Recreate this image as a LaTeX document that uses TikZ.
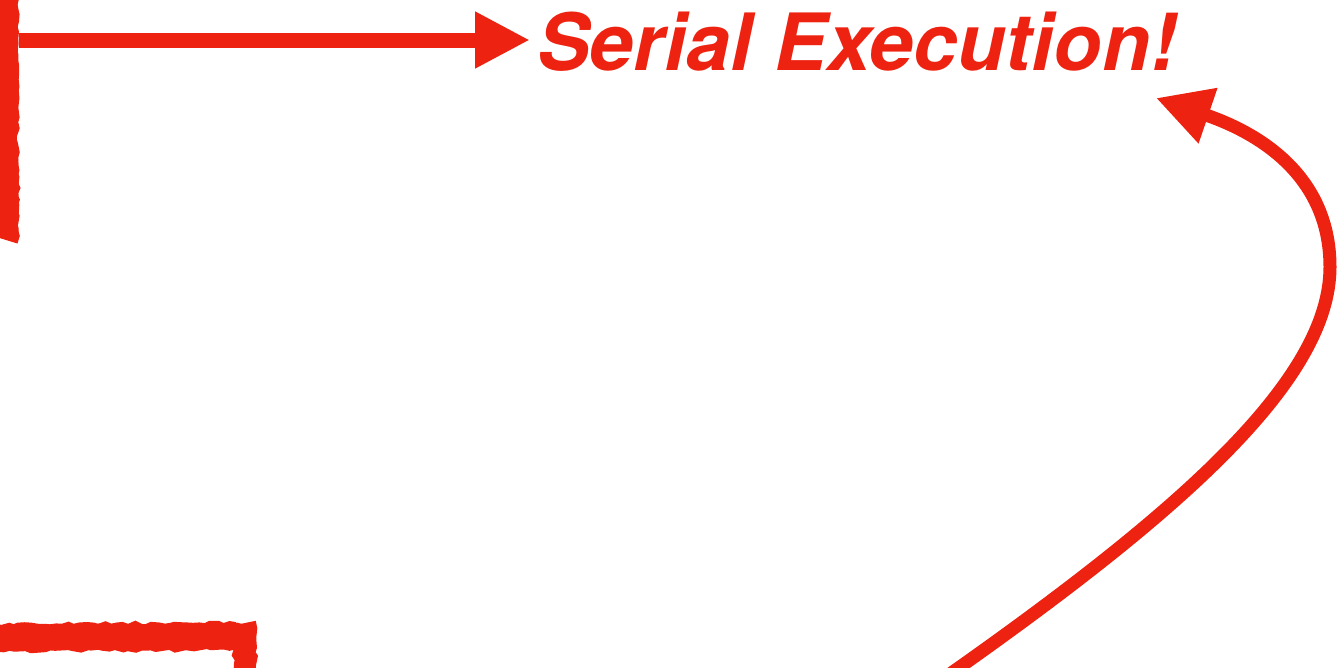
\documentclass[tikz,border=0pt]{standalone}
\usepackage{fontspec}
\setsansfont{TeX Gyre Heros}
\usetikzlibrary{arrows.meta,decorations.pathmorphing}
\definecolor{sketchred}{RGB}{238,34,16}
\begin{document}
\begin{tikzpicture}[x=1pt, y=-1pt,
  brush/.style={sketchred, line width=#1, decorate, decoration={random steps, segment length=6pt, amplitude=1.5pt}},
  flow/.style={sketchred, line width=15pt, -{Triangle[length=55pt,width=53pt]}},
  curvearrow/.style={sketchred, line width=13pt, -{Triangle[length=55pt,width=55pt]}},
  titletext/.style={font=\sffamily\bfseries\itshape\fontsize{79}{79}\selectfont, text=sketchred, inner sep=0pt}]
\pgfmathsetseed{7}
\useasboundingbox (0,0) rectangle (1339,667);
\clip (0,0) rectangle (1339,667);
% left: edge of a sketched box
\draw[brush=24pt] (6,-10) -- (6,240);
\draw[brush=14pt] (11,-10) -- (11,236);
% bottom left: corner of a sketched box
\draw[brush=26pt] (-10,639) -- (240,637);
\draw[brush=14pt] (-10,631) -- (235,629);
\draw[brush=22pt] (245,623) -- (245,680);
% text and arrows
\node[titletext, anchor=base west] (title) at (537,70) {Serial Execution!};
\coordinate (src) at (19,40);
\coordinate (dst) at ([xshift=-7pt]title.west |- src);
\coordinate (low) at (950,674);
\coordinate (tip) at (1156,98);
\draw[flow] (src) -- (dst);
\draw[curvearrow] (low) .. controls (1180,512) and (1330,380) .. (1330,267)
  .. controls (1330,170) and (1250,130) .. (tip);
\end{tikzpicture}
\end{document}
